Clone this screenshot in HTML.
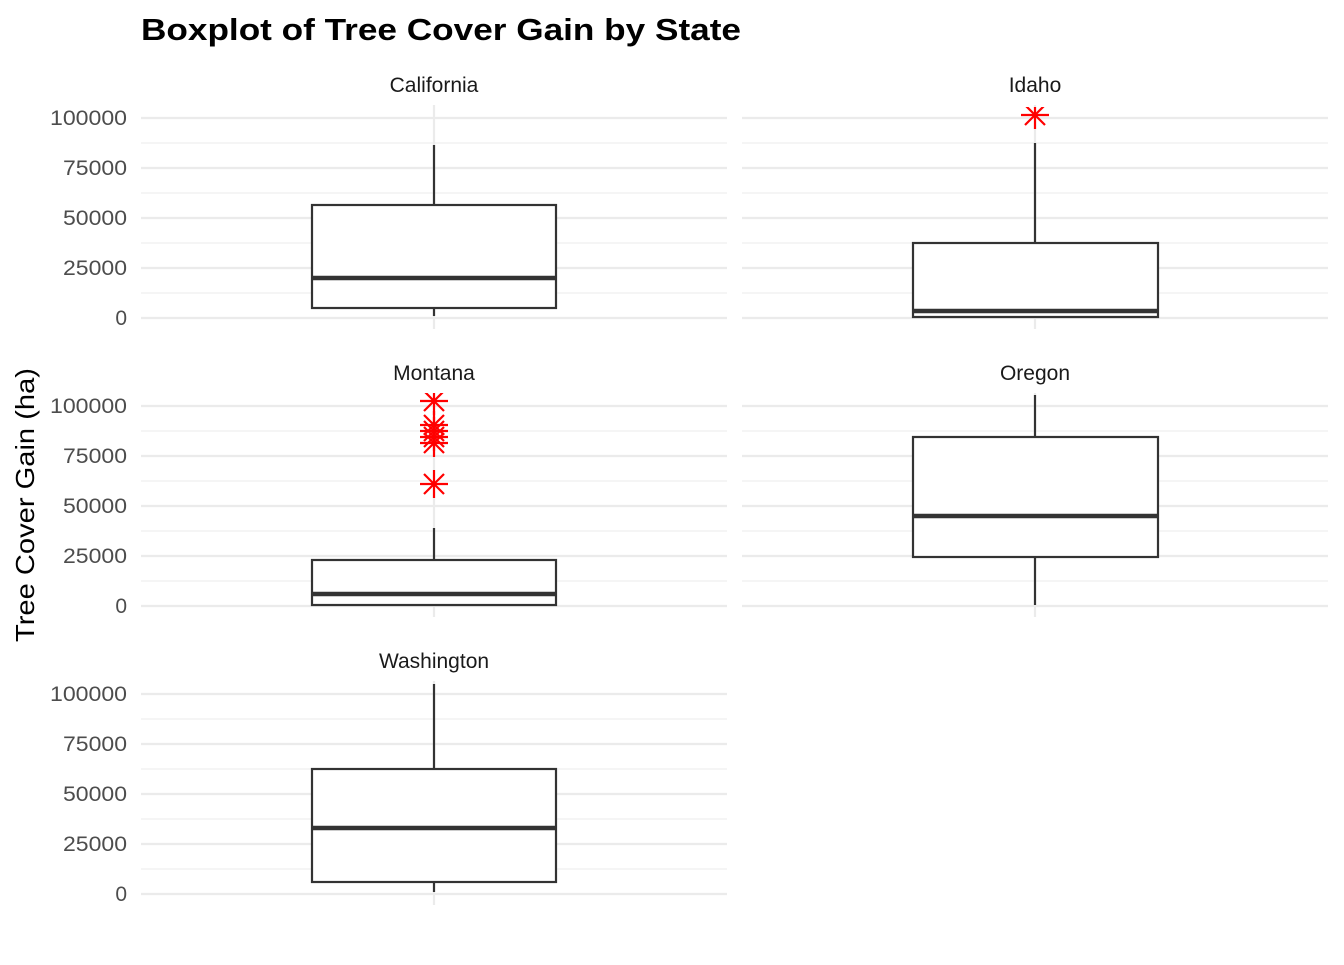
<!DOCTYPE html>
<html><head><meta charset="utf-8"><style>
body{margin:0;background:#fff}
svg text{font-family:"Liberation Sans",Arial,sans-serif}
</style></head><body>
<svg width="1344" height="960" xmlns="http://www.w3.org/2000/svg">
<defs>
<clipPath id="c1"><rect x="141" y="105" width="586" height="224"/></clipPath>
<clipPath id="c2"><rect x="742" y="107" width="587" height="222"/></clipPath>
<clipPath id="c3"><rect x="141" y="393" width="586" height="224"/></clipPath>
<clipPath id="c4"><rect x="742" y="393" width="587" height="224"/></clipPath>
<clipPath id="c5"><rect x="141" y="681" width="586" height="224"/></clipPath>
<g id="grid">
<g stroke="#ebebeb" stroke-width="1">
<line x1="0" x2="586" y1="25" y2="25"/><line x1="0" x2="586" y1="75" y2="75"/>
<line x1="0" x2="586" y1="125" y2="125"/><line x1="0" x2="586" y1="175" y2="175"/>
</g>
<g stroke="#ebebeb" stroke-width="2.2">
<line x1="0" x2="586" y1="0" y2="0"/><line x1="0" x2="586" y1="50" y2="50"/>
<line x1="0" x2="586" y1="100" y2="100"/><line x1="0" x2="586" y1="150" y2="150"/>
<line x1="0" x2="586" y1="200" y2="200"/>
<line x1="293" x2="293" y1="-13" y2="211"/>
</g>
</g>
<g id="ticks" fill="#4d4d4d" font-size="21" text-anchor="end">
<text x="127" y="7" textLength="77" lengthAdjust="spacingAndGlyphs">100000</text>
<text x="127" y="57" textLength="64" lengthAdjust="spacingAndGlyphs">75000</text>
<text x="127" y="107" textLength="64" lengthAdjust="spacingAndGlyphs">50000</text>
<text x="127" y="157" textLength="64" lengthAdjust="spacingAndGlyphs">25000</text>
<text x="127" y="207">0</text>
</g>
<g id="star" stroke="#ff0000" stroke-width="2.2">
<line x1="-14" x2="14" y1="0" y2="0"/><line x1="0" x2="0" y1="-14" y2="14"/>
<line x1="-10" x2="10" y1="-10" y2="10"/><line x1="-10" x2="10" y1="10" y2="-10"/>
</g>
</defs>
<text x="141" y="40" font-size="31" font-weight="bold" fill="#000" textLength="600" lengthAdjust="spacingAndGlyphs">Boxplot of Tree Cover Gain by State</text>
<text transform="translate(34,505) rotate(-90)" font-size="26" text-anchor="middle" fill="#000" textLength="274" lengthAdjust="spacingAndGlyphs">Tree Cover Gain (ha)</text>

<g font-size="21" text-anchor="middle" fill="#1a1a1a">
<text x="434" y="92">California</text><text x="1035" y="92">Idaho</text>
<text x="434" y="380">Montana</text><text x="1035" y="380">Oregon</text>
<text x="434" y="668">Washington</text>
</g>

<use href="#ticks" y="118"/><use href="#ticks" y="406"/><use href="#ticks" y="694"/>
<use href="#grid" x="141" y="118"/><use href="#grid" x="742" y="118"/>
<use href="#grid" x="141" y="406"/><use href="#grid" x="742" y="406"/>
<use href="#grid" x="141" y="694"/>

<g stroke="#333" stroke-width="2.2" fill="#fff">
<g clip-path="url(#c1)">
<line x1="434" x2="434" y1="145" y2="205"/><line x1="434" x2="434" y1="308" y2="316"/>
<rect x="312" y="205" width="244" height="103"/>
<line x1="312" x2="556" y1="278" y2="278" stroke-width="4.5"/>
</g>
<g clip-path="url(#c2)">
<line x1="1035" x2="1035" y1="143" y2="243"/>
<rect x="913" y="243" width="245" height="74"/>
<line x1="913" x2="1158" y1="311" y2="311" stroke-width="4.5"/>
<use href="#star" x="1035" y="115"/>
</g>
<g clip-path="url(#c3)">
<line x1="434" x2="434" y1="528" y2="560"/>
<rect x="312" y="560" width="244" height="45"/>
<line x1="312" x2="556" y1="594" y2="594" stroke-width="4.5"/>
<use href="#star" x="434" y="401"/><use href="#star" x="434" y="425"/>
<use href="#star" x="434" y="431"/><use href="#star" x="434" y="437"/>
<use href="#star" x="434" y="443"/><use href="#star" x="434" y="484"/>
</g>
<g clip-path="url(#c4)">
<line x1="1035" x2="1035" y1="395" y2="437"/><line x1="1035" x2="1035" y1="557" y2="605"/>
<rect x="913" y="437" width="245" height="120"/>
<line x1="913" x2="1158" y1="516" y2="516" stroke-width="4.5"/>
</g>
<g clip-path="url(#c5)">
<line x1="434" x2="434" y1="684" y2="769"/><line x1="434" x2="434" y1="882" y2="892"/>
<rect x="312" y="769" width="244" height="113"/>
<line x1="312" x2="556" y1="828" y2="828" stroke-width="4.5"/>
</g>
</g>
</svg>
</body></html>
